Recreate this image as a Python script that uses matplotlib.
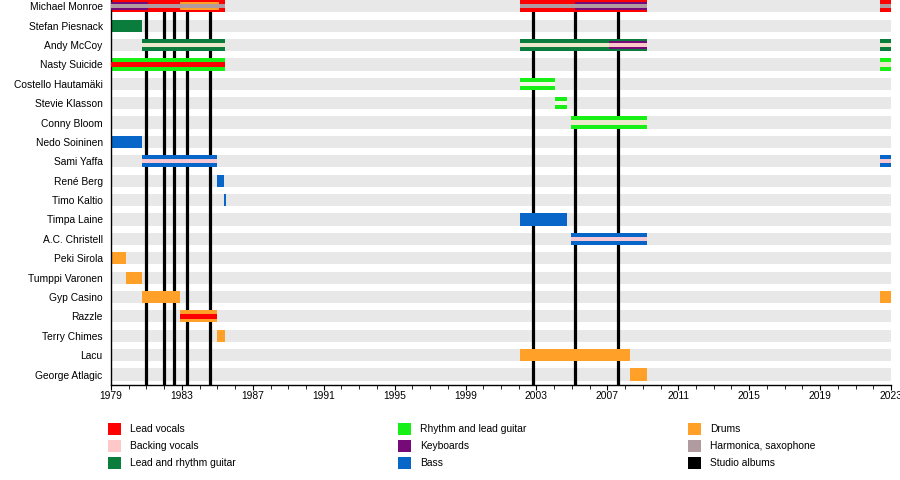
import matplotlib
matplotlib.use("Agg")
import matplotlib.pyplot as plt
from matplotlib.patches import Rectangle

plt.rcParams["font.family"] = ["Liberation Sans", "DejaVu Sans"]

# ── Data ──────────────────────────────────────────────────────────────────────
members = [
    "Michael Monroe", "Stefan Piesnack", "Andy McCoy", "Nasty Suicide",
    "Costello Hautamäki", "Stevie Klasson", "Conny Bloom", "Nedo Soininen",
    "Sami Yaffa", "René Berg", "Timo Kaltio", "Timpa Laine", "A.C. Christell",
    "Peki Sirola", "Tumppi Varonen", "Gyp Casino", "Razzle", "Terry Chimes",
    "Lacu", "George Atlagic",
]

role_colors = {
    "Lead vocals":            "#ff0000",
    "Backing vocals":         "#ffc8c8",
    "Lead and rhythm guitar": "#0a7d3c",
    "Rhythm and lead guitar": "#16f016",
    "Keyboards":              "#760a78",
    "Bass":                   "#0866c8",
    "Drums":                  "#ffa028",
    "Harmonica, saxophone":   "#b09ca0",
    "Studio albums":          "#000000",
}
# pale stripes as they show up in the picture
stripe_colors = {
    "cream": "#ece8cc",
    "white": "#f4f6e6",
    "pink":  "#f6c8d4",
}

# (member, role, start, end) for each layer
outer_bars = [
    ("Michael Monroe", "Lead vocals", 1979.0, 1985.45),
    ("Michael Monroe", "Lead vocals", 2002.05, 2009.25),
    ("Michael Monroe", "Lead vocals", 2022.4, 2023.0),
    ("Stefan Piesnack", "Lead and rhythm guitar", 1979.0, 1980.75),
    ("Andy McCoy", "Lead and rhythm guitar", 1980.75, 1985.45),
    ("Andy McCoy", "Lead and rhythm guitar", 2002.05, 2009.25),
    ("Andy McCoy", "Lead and rhythm guitar", 2022.4, 2023.0),
    ("Nasty Suicide", "Rhythm and lead guitar", 1979.0, 1985.45),
    ("Nasty Suicide", "Rhythm and lead guitar", 2022.4, 2023.0),
    ("Costello Hautamäki", "Rhythm and lead guitar", 2002.05, 2004.05),
    ("Stevie Klasson", "Rhythm and lead guitar", 2004.05, 2004.7),
    ("Conny Bloom", "Rhythm and lead guitar", 2004.95, 2009.25),
    ("Nedo Soininen", "Bass", 1979.0, 1980.75),
    ("Sami Yaffa", "Bass", 1980.75, 1985.0),
    ("Sami Yaffa", "Bass", 2022.4, 2023.0),
    ("René Berg", "Bass", 1985.0, 1985.4),
    ("Timo Kaltio", "Bass", 1985.4, 1985.5),
    ("Timpa Laine", "Bass", 2002.05, 2004.7),
    ("A.C. Christell", "Bass", 2004.95, 2009.25),
    ("Peki Sirola", "Drums", 1979.0, 1979.85),
    ("Tumppi Varonen", "Drums", 1979.85, 1980.75),
    ("Gyp Casino", "Drums", 1980.75, 1982.9),
    ("Gyp Casino", "Drums", 2022.4, 2023.0),
    ("Razzle", "Drums", 1982.9, 1985.0),
    ("Terry Chimes", "Drums", 1985.0, 1985.45),
    ("Lacu", "Drums", 2002.05, 2008.3),
    ("George Atlagic", "Drums", 2008.3, 2009.25),
]
middle_bars = [
    ("Michael Monroe", "Keyboards", 1979.0, 1981.1),
    ("Michael Monroe", "Drums", 1982.9, 1985.1),
    ("Michael Monroe", "Keyboards", 2005.2, 2009.25),
    ("Andy McCoy", "Keyboards", 2007.1, 2009.25),
]
inner_bars = [
    ("Michael Monroe", "Harmonica, saxophone", 1979.0, 1985.45),
    ("Michael Monroe", "Harmonica, saxophone", 2002.05, 2009.25),
    ("Michael Monroe", "Harmonica, saxophone", 2022.4, 2023.0),
    ("Andy McCoy", "cream", 1980.75, 1985.45),
    ("Andy McCoy", "cream", 2002.05, 2007.1),
    ("Andy McCoy", "Backing vocals", 2007.1, 2009.25),
    ("Andy McCoy", "cream", 2022.4, 2023.0),
    ("Nasty Suicide", "Lead vocals", 1979.0, 1985.45),
    ("Nasty Suicide", "cream", 2022.4, 2023.0),
    ("Costello Hautamäki", "white", 2002.05, 2004.05),
    ("Stevie Klasson", "white", 2004.05, 2004.7),
    ("Conny Bloom", "cream", 2004.95, 2009.25),
    ("Sami Yaffa", "pink", 1980.75, 1985.0),
    ("Sami Yaffa", "pink", 2022.4, 2023.0),
    ("A.C. Christell", "pink", 2004.95, 2009.25),
    ("Razzle", "Lead vocals", 1982.9, 1985.0),
]

albums = [1981.0, 1982.0, 1982.55, 1983.3, 1984.6, 2002.8, 2005.2, 2007.6]

year_start, year_end = 1979, 2023
major_ticks = list(range(1979, 2024, 4))

legend_order = [
    "Lead vocals", "Backing vocals", "Lead and rhythm guitar",
    "Rhythm and lead guitar", "Keyboards", "Bass",
    "Drums", "Harmonica, saxophone", "Studio albums",
]


def colour(role):
    return role_colors.get(role) or stripe_colors[role]


# ── Figure ────────────────────────────────────────────────────────────────────
fig = plt.figure(figsize=(9, 4.8), dpi=100)
ax = fig.add_axes([111 / 900, 1 - 385 / 480, 780 / 900, 385 / 480])

row = {name: i for i, name in enumerate(members)}
BAR_H, MID_H, IN_H = 0.63, 0.42, 0.22

# gray row backgrounds
ax.barh(range(len(members)), year_end - year_start, left=year_start,
        height=BAR_H, color="#e8e8e8", zorder=0)

# studio albums
ax.vlines(albums, -1, len(members) + 1, color="black", linewidth=2.3, zorder=1)

for layer, h, z in ((outer_bars, BAR_H, 2), (middle_bars, MID_H, 3), (inner_bars, IN_H, 4)):
    for name, role, start, end in layer:
        ax.barh(row[name], end - start, left=start, height=h,
                color=colour(role), linewidth=0, zorder=z)

ax.set_xlim(year_start, year_end)
ax.set_ylim(len(members) - 1 + 0.54, -0.325)

ax.set_yticks(range(len(members)))
ax.set_yticklabels(members, fontsize=7.4)
ax.tick_params(axis="y", length=0, pad=6)

ax.set_xticks(major_ticks)
ax.set_xticks(range(year_start, year_end + 1), minor=True)
ax.tick_params(axis="x", which="major", length=3.5, labelsize=7.4, pad=1, direction="out")
ax.tick_params(axis="x", which="minor", length=3, direction="out")

for side in ("top", "right"):
    ax.spines[side].set_visible(False)
ax.spines["left"].set_linewidth(1.0)
ax.spines["bottom"].set_linewidth(1.0)

# ── Legend (three columns) ────────────────────────────────────────────────────
col_x = [108, 398, 688]
row_y = [429, 446, 463]
for k, label in enumerate(legend_order):
    cx, cy = col_x[k // 3], row_y[k % 3]
    fig.patches.append(Rectangle(((cx) / 900, 1 - (cy + 6) / 480), 13 / 900, 12 / 480,
                                 transform=fig.transFigure, color=role_colors[label],
                                 linewidth=0))
    fig.text((cx + 22) / 900, 1 - cy / 480, label, fontsize=7.4, va="center", ha="left")

fig.savefig("out.png", dpi=100)
